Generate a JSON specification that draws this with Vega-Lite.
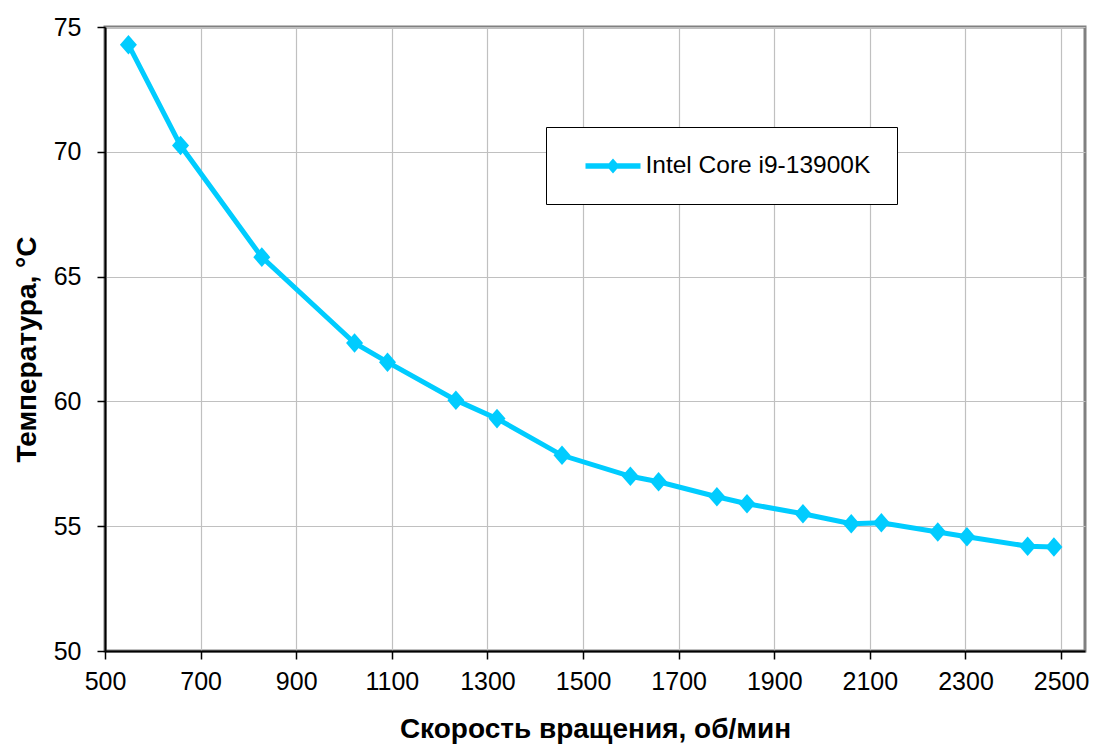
{
  "$schema": "https://vega.github.io/schema/vega-lite/v6.json",
  "width": 980,
  "height": 624,
  "autosize": {"type": "none"},
  "padding": {"left": 105, "top": 27, "right": 23, "bottom": 96},
  "background": "white",
  "config": {
    "font": "Liberation Sans",
    "view": {"stroke": "#808080", "strokeWidth": 3},
    "axis": {
      "labelFont": "Liberation Sans",
      "titleFont": "Liberation Sans",
      "labelFontSize": 25,
      "labelColor": "black",
      "titleFontSize": 28,
      "titleFontWeight": "bold",
      "titleColor": "black",
      "domainColor": "black",
      "domainWidth": 2,
      "tickColor": "black",
      "tickSize": 8,
      "tickWidth": 1.5,
      "gridColor": "#c0c0c0",
      "gridWidth": 1.2
    }
  },
  "data": {
    "values": [
      {"rpm": 549, "temp": 74.29, "cpu": "Intel Core i9-13900K"},
      {"rpm": 658, "temp": 70.25, "cpu": "Intel Core i9-13900K"},
      {"rpm": 828, "temp": 65.78, "cpu": "Intel Core i9-13900K"},
      {"rpm": 1022, "temp": 62.34, "cpu": "Intel Core i9-13900K"},
      {"rpm": 1091, "temp": 61.57, "cpu": "Intel Core i9-13900K"},
      {"rpm": 1234, "temp": 60.05, "cpu": "Intel Core i9-13900K"},
      {"rpm": 1320, "temp": 59.31, "cpu": "Intel Core i9-13900K"},
      {"rpm": 1456, "temp": 57.84, "cpu": "Intel Core i9-13900K"},
      {"rpm": 1599, "temp": 57.0, "cpu": "Intel Core i9-13900K"},
      {"rpm": 1658, "temp": 56.78, "cpu": "Intel Core i9-13900K"},
      {"rpm": 1780, "temp": 56.18, "cpu": "Intel Core i9-13900K"},
      {"rpm": 1843, "temp": 55.9, "cpu": "Intel Core i9-13900K"},
      {"rpm": 1960, "temp": 55.5, "cpu": "Intel Core i9-13900K"},
      {"rpm": 2061, "temp": 55.1, "cpu": "Intel Core i9-13900K"},
      {"rpm": 2124, "temp": 55.14, "cpu": "Intel Core i9-13900K"},
      {"rpm": 2242, "temp": 54.77, "cpu": "Intel Core i9-13900K"},
      {"rpm": 2303, "temp": 54.58, "cpu": "Intel Core i9-13900K"},
      {"rpm": 2430, "temp": 54.2, "cpu": "Intel Core i9-13900K"},
      {"rpm": 2485, "temp": 54.17, "cpu": "Intel Core i9-13900K"}
    ]
  },
  "encoding": {
    "x": {
      "field": "rpm",
      "type": "quantitative",
      "title": "Скорость вращения, об/мин",
      "scale": {"domain": [500, 2550], "nice": false, "zero": false},
      "axis": {
        "values": [500, 700, 900, 1100, 1300, 1500, 1700, 1900, 2100, 2300, 2500],
        "format": "d",
        "labelPadding": 10,
        "titleBaseline": "alphabetic",
        "titleY": 86,
        "titleX": 490,
        "labelFlush": false,
        "labelOverlap": false
      }
    },
    "y": {
      "field": "temp",
      "type": "quantitative",
      "title": "Температура, °C",
      "scale": {"domain": [50, 75], "nice": false, "zero": false},
      "axis": {
        "values": [50, 55, 60, 65, 70, 75],
        "labelPadding": 16,
        "titleBaseline": "alphabetic",
        "titleX": -70,
        "titleY": 322,
        "labelFlush": false,
        "labelOverlap": false
      }
    }
  },
  "layer": [
    {
      "mark": {"type": "line", "color": "#00ccff", "strokeWidth": 5}
    },
    {
      "mark": {
        "type": "point",
        "filled": true,
        "opacity": 1,
        "shape": "M0,-1.15L1,0L0,1.15L-1,0Z",
        "size": 289
      },
      "encoding": {
        "color": {
          "field": "cpu",
          "type": "nominal",
          "scale": {"domain": ["Intel Core i9-13900K"], "range": ["#00ccff"]},
          "legend": {
            "title": null,
            "orient": "none",
            "legendX": 441,
            "legendY": 100,
            "padding": 26.5,
            "strokeColor": "black",
            "fillColor": "white",
            "symbolType": "M-2.2,-0.22L2.2,-0.22L2.2,0.22L-2.2,0.22Z M0,-0.6L0.52,0L0,0.6L-0.52,0Z",
            "symbolSize": 625,
            "symbolStrokeWidth": 0,
            "symbolOffset": 28,
            "labelOffset": 20,
            "labelLimit": 500,
            "labelFont": "Liberation Sans",
            "labelFontSize": 24.5,
            "labelColor": "black",
            "encode": {"legend": {"update": {"strokeWidth": {"value": 1.2}}}}
          }
        }
      }
    }
  ]
}
